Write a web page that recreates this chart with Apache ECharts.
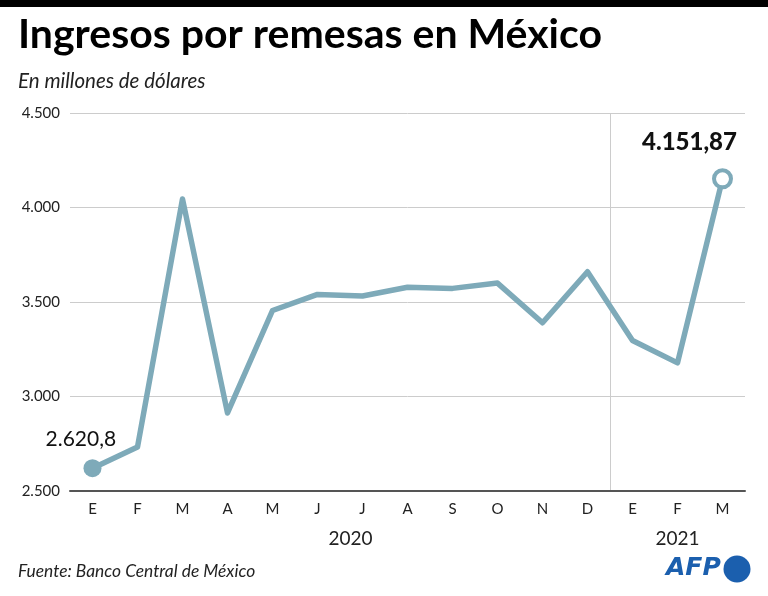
<!DOCTYPE html>
<html>
<head>
<meta charset="utf-8">
<script src="https://cdn.jsdelivr.net/npm/echarts@6/dist/echarts.min.js"></script>
<style>
  html, body { margin: 0; padding: 0; background: #fff; }
  #main { width: 768px; height: 596px; }
</style>
</head>
<body>
<div id="main"></div>
<script>
// meses ene 2020 - mar 2021
var months = ['E', 'F', 'M', 'A', 'M', 'J', 'J', 'A', 'S', 'O', 'N', 'D', 'E', 'F', 'M'];
var years = ['', '', '', '', '', '', '2020', '', '', '', '', '', '', '2021', ''];
var remesas = [2620.8, 2733, 4045, 2913, 3455, 3540, 3532, 3578, 3572, 3600, 3390, 3660, 3296, 3178, 4151.87];
var yTicks = [2500, 3000, 3500, 4000, 4500];
var yearBreak = 12; // limite dic 2020 / ene 2021

var lineColor = '#7eaab9';

function fmt(v) {
  return String(v).replace(/\B(?=(\d{3})+(?!\d))/g, '.');
}

var chart = echarts.init(document.getElementById('main'));

var option = {
  animation: false,
  textStyle: { fontFamily: 'Lato' },
  graphic: [
    { type: 'rect', left: 0, top: 0, shape: { width: 768, height: 7 }, style: { fill: '#000' } },
    { type: 'text', left: 18, top: 14, style: { text: 'Ingresos por remesas en México', font: 'bold 41px Lato', fill: '#000' } },
    { type: 'text', left: 18, top: 71, style: { text: 'En millones de dólares', font: 'italic 20.5px Lato', fill: '#222' } },
    { type: 'text', left: 18, top: 563, style: { text: 'Fuente: Banco Central de México', font: 'italic 17.4px Lato', fill: '#222' } },
    { type: 'text', left: 666, top: 556, style: { text: 'AFP', font: 'italic 900 25px "DejaVu Sans"', fill: '#1b5fae' } },
    { type: 'circle', shape: { cx: 737, cy: 569, r: 13.5 }, style: { fill: '#1b5fae' } }
  ],
  grid: { left: 70, right: 23, top: 113, bottom: 105 },
  xAxis: [
    {
      type: 'category',
      data: months,
      boundaryGap: true,
      axisLine: { lineStyle: { color: '#555', width: 2 } },
      axisTick: { show: false },
      axisLabel: { color: '#222', fontSize: 15, margin: 11, interval: 0 },
      splitLine: { show: false }
    },
    {
      type: 'category',
      data: years,
      position: 'bottom',
      offset: 30,
      boundaryGap: true,
      axisLine: { show: false },
      axisTick: { show: false },
      axisLabel: {
        interval: 0,
        color: '#222',
        fontSize: 19,
        formatter: function (v) { return v === '2020' ? '{a|' + v + '}' : v; },
        rich: { a: { fontSize: 19, color: '#222', padding: [0, 24, 0, 0] } }
      }
    },
    {
      // eje auxiliar para la linea vertical entre 2020 y 2021
      type: 'value',
      min: 0,
      max: months.length,
      interval: yearBreak,
      show: true,
      axisLine: { show: false },
      axisTick: { show: false },
      axisLabel: { show: false },
      splitLine: { show: true, showMinLine: false, showMaxLine: false, lineStyle: { color: '#ccc', width: 1 } }
    }
  ],
  yAxis: {
    type: 'value',
    min: yTicks[0],
    max: yTicks[yTicks.length - 1],
    interval: 500,
    axisLine: { show: false },
    axisTick: { show: false },
    axisLabel: { color: '#222', fontSize: 15, margin: 10, formatter: fmt },
    splitLine: { lineStyle: { color: '#ccc', width: 1 } }
  },
  series: [{
    type: 'line',
    data: remesas.map(function (v, i) {
      if (i === 0) {
        return {
          value: v, symbol: 'circle', symbolSize: 18,
          itemStyle: { color: lineColor },
          label: { show: true, position: [-38, -30], formatter: '2.620,8', fontSize: 21, color: '#111' }
        };
      }
      if (i === remesas.length - 1) {
        return {
          value: v, symbol: 'circle', symbolSize: 17,
          itemStyle: { color: '#fff', borderColor: lineColor, borderWidth: 4 },
          label: {
            show: true, position: [-70, -38], formatter: '{b|4.151,87}',
            rich: { b: { fontSize: 24, fontWeight: 900, fontFamily: 'Lato', color: '#111' } }
          }
        };
      }
      return { value: v, symbol: 'none' };
    }),
    showSymbol: true,
    lineStyle: { color: lineColor, width: 5.5, join: 'round' },
    itemStyle: { color: lineColor },
    z: 3
  }]
};

chart.setOption(option);
</script>
</body>
</html>
